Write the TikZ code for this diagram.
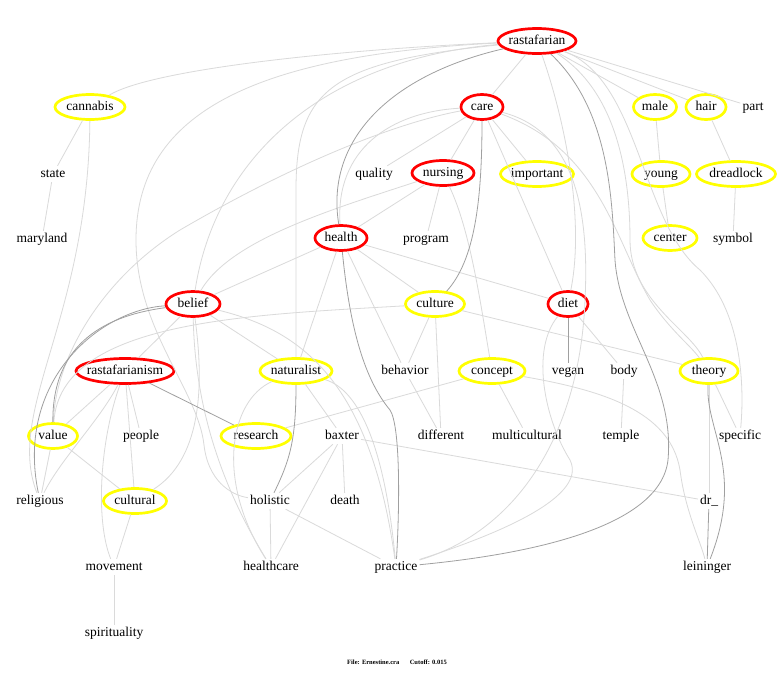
\documentclass[tikz,border=0pt]{standalone}
\usepackage{fontspec}
\setmainfont{Liberation Serif}
\usetikzlibrary{shapes.geometric}
\definecolor{edgel}{RGB}{218,218,218}
\definecolor{edged}{RGB}{160,160,160}
\definecolor{ovred}{RGB}{255,0,0}
\definecolor{ovyel}{RGB}{255,255,0}
\tikzset{
  lbl/.style={font=\fontsize{13.5}{15}\selectfont, inner sep=2pt, text height=9pt, text depth=3pt},
  rov/.style={lbl, shape=ellipse, draw=ovred, line width=2.7pt, inner sep=-20pt, minimum height=25pt},
  yov/.style={lbl, shape=ellipse, draw=ovyel, line width=2.7pt, inner sep=-20pt, minimum height=25pt},
  txt/.style={lbl},
  lt/.style={draw=edgel, line width=0.8pt},
  dk/.style={draw=edged, line width=0.8pt}
}
\begin{document}
\begin{tikzpicture}[x=1pt,y=-1pt]
\useasboundingbox[fill=white] (0,0) rectangle (780,675);
% nodes
\node[rov, minimum width=78pt] (rastafarian) at (537,41) {rastafarian};
\node[yov, minimum width=70pt] (cannabis) at (90,107) {cannabis};
\node[rov, minimum width=42pt] (care) at (482,107) {care};
\node[yov, minimum width=43pt] (male) at (655,107) {male};
\node[yov, minimum width=40pt] (hair) at (706,107) {hair};
\node[txt] (part) at (753,107) {part};
\node[txt] (state) at (53,174) {state};
\node[txt] (quality) at (374,174) {quality};
\node[rov, minimum width=62pt] (nursing) at (443,173) {nursing};
\node[yov, minimum width=73pt] (important) at (537,174) {important};
\node[yov, minimum width=58pt] (young) at (661,174) {young};
\node[yov, minimum width=79pt] (dreadlock) at (736,174) {dreadlock};
\node[txt] (maryland) at (42,239) {maryland};
\node[rov, minimum width=52pt] (health) at (341,238) {health};
\node[txt] (program) at (426,239) {program};
\node[yov, minimum width=54pt] (center) at (670,238) {center};
\node[txt] (symbol) at (733,239) {symbol};
\node[rov, minimum width=54pt] (belief) at (193,304) {belief};
\node[yov, minimum width=59pt] (culture) at (435,304) {culture};
\node[rov, minimum width=40pt] (diet) at (568,304) {diet};
\node[rov, minimum width=98pt] (rastafarianism) at (125,371) {rastafarianism};
\node[yov, minimum width=72pt] (naturalist) at (296,371) {naturalist};
\node[txt] (behavior) at (405,371) {behavior};
\node[yov, minimum width=66pt] (concept) at (492,371) {concept};
\node[txt] (vegan) at (568,371) {vegan};
\node[txt] (body) at (624,371) {body};
\node[yov, minimum width=58pt] (theory) at (709,371) {theory};
\node[yov, minimum width=49pt] (value) at (53,436) {value};
\node[txt] (people) at (141,436) {people};
\node[yov, minimum width=70pt] (research) at (256,436) {research};
\node[txt] (baxter) at (342,436) {baxter};
\node[txt] (different) at (441,436) {different};
\node[txt] (multicultural) at (527,436) {multicultural};
\node[txt] (temple) at (621,436) {temple};
\node[txt] (specific) at (740,436) {specific};
\node[txt] (religious) at (40,501) {religious};
\node[yov, minimum width=63pt] (cultural) at (135,501) {cultural};
\node[txt] (holistic) at (270,501) {holistic};
\node[txt] (death) at (345,501) {death};
\node[txt] (dr) at (709,501) {dr\_};
\node[txt] (movement) at (114,567) {movement};
\node[txt] (healthcare) at (271,567) {healthcare};
\node[txt] (practice) at (396,567) {practice};
\node[txt] (leininger) at (707,567) {leininger};
\node[txt] (spirituality) at (114,633) {spirituality};
\node[font=\fontsize{6.5}{8}\selectfont\bfseries, inner sep=0pt] (footer) at (397,662) {File: Ernestine.cra\hspace{1.6em}Cutoff: 0.015};
% light edges
\draw[lt] (rastafarian) .. controls (330,50) and (150,70) .. (cannabis);
\draw[lt] (rastafarian) .. controls (260,55) and (136,110) .. (136,240) .. controls (136,330) and (198,390) .. (204,445) .. controls (208,480) and (230,495) .. (holistic);
\draw[lt] (rastafarian) .. controls (320,60) and (215,160) .. (belief);
\draw[lt] (rastafarian) .. controls (330,62) and (296,90) .. (296,190) -- (naturalist);
\draw[lt] (rastafarian) -- (care);
\draw[lt] (rastafarian) .. controls (565,120) and (585,220) .. (diet);
\draw[lt] (rastafarian) -- (male);
\draw[lt] (rastafarian) -- (hair);
\draw[lt] (rastafarian) -- (part);
\draw[lt] (rastafarian) .. controls (615,90) and (630,170) .. (630,240) .. controls (630,300) and (690,330) .. (theory);
\draw[lt] (rastafarian) .. controls (640,80) and (640,220) .. (700,270) .. controls (740,310) and (745,380) .. (specific);
\draw[lt] (care) -- (quality);
\draw[lt] (care) -- (nursing);
\draw[lt] (care) -- (important);
\draw[lt] (care) .. controls (390,112) and (335,150) .. (health);
\draw[lt] (care) -- (diet);
\draw[lt] (care) .. controls (570,130) and (590,200) .. (585,300) .. controls (580,430) and (520,530) .. (practice);
\draw[lt] (care) .. controls (400,122) and (300,160) .. (180,230) .. controls (100,280) and (55,360) .. (value);
\draw[lt] (care) .. controls (600,150) and (615,240) .. (650,300) .. controls (670,330) and (690,345) .. (theory);
\draw[lt] (nursing) -- (health);
\draw[lt] (nursing) -- (program);
\draw[lt] (nursing) .. controls (470,230) and (480,300) .. (concept);
\draw[lt] (nursing) .. controls (330,210) and (230,240) .. (belief);
\draw[lt] (health) -- (belief);
\draw[lt] (health) -- (naturalist);
\draw[lt] (health) -- (behavior);
\draw[lt] (health) -- (culture);
\draw[lt] (health) -- (diet);
\draw[lt] (belief) -- (rastafarianism);
\draw[lt] (belief) -- (naturalist);
\draw[lt] (belief) .. controls (205,390) and (200,460) .. (cultural);
\draw[lt] (belief) .. controls (195,420) and (230,500) .. (healthcare);
\draw[lt] (belief) .. controls (300,330) and (370,380) .. (practice);
\draw[lt] (culture) -- (behavior);
\draw[lt] (culture) -- (different);
\draw[lt] (culture) -- (theory);
\draw[lt] (culture) .. controls (250,315) and (60,320) .. (value);
\draw[lt] (rastafarianism) -- (value);
\draw[lt] (rastafarianism) -- (people);
\draw[lt] (rastafarianism) .. controls (100,420) and (60,460) .. (religious);
\draw[lt] (rastafarianism) -- (cultural);
\draw[lt] (rastafarianism) .. controls (100,440) and (95,520) .. (movement);
\draw[lt] (value) -- (cultural);
\draw[lt] (value) -- (religious);
\draw[lt] (cannabis) -- (state);
\draw[lt] (state) -- (maryland);
\draw[lt] (cannabis) .. controls (88,320) and (5,410) .. (religious);
\draw[lt] (cultural) -- (movement);
\draw[lt] (movement) -- (spirituality);
\draw[lt] (naturalist) -- (baxter);
\draw[lt] (naturalist) .. controls (360,390) and (385,450) .. (practice);
\draw[lt] (naturalist) .. controls (230,400) and (215,480) .. (healthcare);
\draw[lt] (research) -- (concept);
\draw[lt] (baxter) -- (holistic);
\draw[lt] (baxter) -- (death);
\draw[lt] (baxter) -- (healthcare);
\draw[lt] (baxter) -- (dr);
\draw[lt] (holistic) -- (healthcare);
\draw[lt] (holistic) -- (practice);
\draw[lt] (behavior) -- (different);
\draw[lt] (concept) -- (multicultural);
\draw[lt] (concept) .. controls (600,390) and (670,410) .. (680,470) .. controls (685,510) and (700,540) .. (leininger);
\draw[lt] (diet) -- (body);
\draw[lt] (body) -- (temple);
\draw[lt] (diet) .. controls (530,350) and (545,420) .. (570,460) .. controls (590,500) and (480,540) .. (practice);
\draw[lt] (theory) -- (specific);
\draw[lt] (theory) -- (dr);
\draw[lt] (male) -- (young);
\draw[lt] (young) -- (center);
\draw[lt] (hair) -- (dreadlock);
\draw[lt] (dreadlock) -- (symbol);
% dark edges
\draw[dk] (rastafarian) .. controls (390,75) and (325,140) .. (health);
\draw[dk] (rastafarian) .. controls (610,110) and (612,200) .. (615,260) .. controls (620,330) and (675,380) .. (668,460) .. controls (660,530) and (520,555) .. (practice);
\draw[dk] (care) .. controls (482,200) and (475,260) .. (culture);
\draw[dk] (health) .. controls (350,330) and (365,380) .. (390,410) .. controls (400,425) and (400,500) .. (practice);
\draw[dk] (belief) .. controls (110,315) and (52,340) .. (value);
\draw[dk] (belief) .. controls (100,310) and (15,380) .. (religious);
\draw[dk] (rastafarianism) -- (research);
\draw[dk] (naturalist) .. controls (296,440) and (290,460) .. (holistic);
\draw[dk] (diet) -- (vegan);
\draw[dk] (theory) .. controls (705,430) and (745,470) .. (leininger);
\draw[dk] (dr) -- (leininger);
\end{tikzpicture}
\end{document}
